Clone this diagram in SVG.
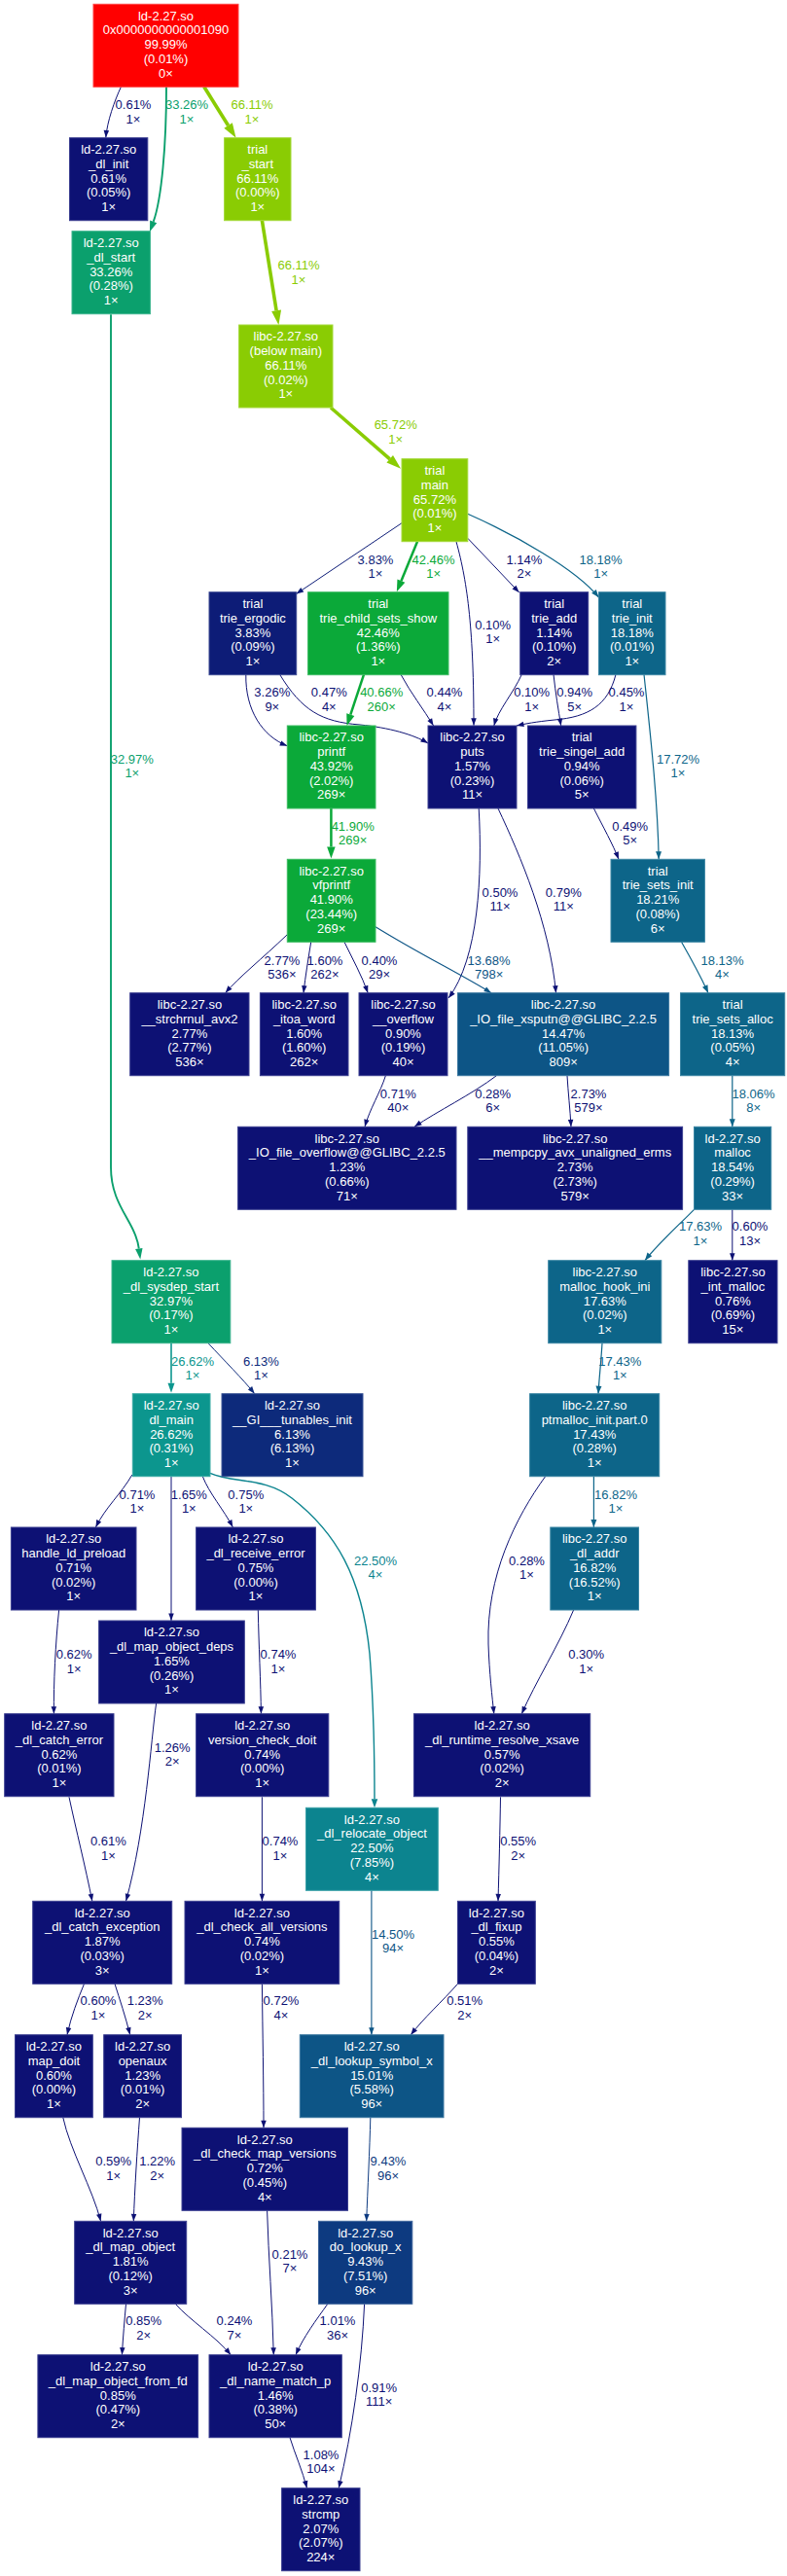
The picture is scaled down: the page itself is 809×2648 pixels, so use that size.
<svg xmlns="http://www.w3.org/2000/svg" width="809" height="2648" viewBox="0 0 809 2648">
<style>
text{font-family:"Liberation Sans",Arial,sans-serif;font-size:13px;text-anchor:middle}
.node text{fill:#ffffff}
.node rect{stroke-width:1}
#edges path{fill:none}
rect.kr{fill:#ff0000;stroke:#ff4040}
rect.k0{fill:#0d1174;stroke:#3a3e90}
rect.k1{fill:#0d1c77;stroke:#3a4892}
rect.k2{fill:#0d2a7b;stroke:#3a5596}
rect.k3{fill:#0d3a80;stroke:#3a6299}
rect.k4{fill:#0d5586;stroke:#3a77a0}
rect.k5{fill:#0d6589;stroke:#3a85a3}
rect.k6{fill:#0c848f;stroke:#3aa0a8}
rect.k7{fill:#0c968e;stroke:#3aaca6}
rect.k8{fill:#0ba06d;stroke:#3ab38c}
rect.k9{fill:#0ba939;stroke:#3abb60}
rect.k10{fill:#8acc03;stroke:#a4d93a}
path.k0{stroke:#0d1174;stroke-width:1;marker-end:url(#a0)}
path.k1{stroke:#0d1c77;stroke-width:1;marker-end:url(#a1)}
path.k2{stroke:#0d2a7b;stroke-width:1;marker-end:url(#a2)}
path.k3{stroke:#0d3a80;stroke-width:1;marker-end:url(#a3)}
path.k4{stroke:#0d5586;stroke-width:1.1;marker-end:url(#a4)}
path.k5{stroke:#0d6589;stroke-width:1.2;marker-end:url(#a5)}
path.k6{stroke:#0c848f;stroke-width:1.4;marker-end:url(#a6)}
path.k7{stroke:#0c968e;stroke-width:1.6;marker-end:url(#a7)}
path.k8{stroke:#0ba06d;stroke-width:1.9;marker-end:url(#a8)}
path.k9{stroke:#0ba939;stroke-width:2.5;marker-end:url(#a9)}
path.k10{stroke:#8acc03;stroke-width:3.6;marker-end:url(#a10)}
text.k0{fill:#0d1174}
text.k1{fill:#0d1c77}
text.k2{fill:#0d2a7b}
text.k3{fill:#0d3a80}
text.k4{fill:#0d5586}
text.k5{fill:#0d6589}
text.k6{fill:#0c848f}
text.k7{fill:#0c968e}
text.k8{fill:#0ba06d}
text.k9{fill:#0ba939}
text.k10{fill:#8acc03}
</style>
<defs>
<marker id="a0" markerUnits="userSpaceOnUse" markerWidth="8" markerHeight="6" refX="7.5" refY="2.75" orient="auto" overflow="visible"><path d="M0,0L7.5,2.75L0,5.5z" fill="#0d1174"/></marker>
<marker id="a1" markerUnits="userSpaceOnUse" markerWidth="8" markerHeight="6" refX="7.5" refY="2.75" orient="auto" overflow="visible"><path d="M0,0L7.5,2.75L0,5.5z" fill="#0d1c77"/></marker>
<marker id="a2" markerUnits="userSpaceOnUse" markerWidth="8" markerHeight="6" refX="7.5" refY="2.75" orient="auto" overflow="visible"><path d="M0,0L7.5,2.75L0,5.5z" fill="#0d2a7b"/></marker>
<marker id="a3" markerUnits="userSpaceOnUse" markerWidth="8" markerHeight="6" refX="7.5" refY="2.75" orient="auto" overflow="visible"><path d="M0,0L7.5,2.75L0,5.5z" fill="#0d3a80"/></marker>
<marker id="a4" markerUnits="userSpaceOnUse" markerWidth="8" markerHeight="6" refX="7.5" refY="2.75" orient="auto" overflow="visible"><path d="M0,0L7.5,2.75L0,5.5z" fill="#0d5586"/></marker>
<marker id="a5" markerUnits="userSpaceOnUse" markerWidth="8" markerHeight="6" refX="8" refY="3" orient="auto" overflow="visible"><path d="M0,0L8,3L0,6z" fill="#0d6589"/></marker>
<marker id="a6" markerUnits="userSpaceOnUse" markerWidth="9" markerHeight="7" refX="0" refY="3.25" orient="auto" overflow="visible"><path d="M0,0L9,3.25L0,6.5z" fill="#0c848f"/></marker>
<marker id="a7" markerUnits="userSpaceOnUse" markerWidth="10" markerHeight="7" refX="0" refY="3.5" orient="auto" overflow="visible"><path d="M0,0L10,3.5L0,7z" fill="#0c968e"/></marker>
<marker id="a8" markerUnits="userSpaceOnUse" markerWidth="11" markerHeight="8" refX="0" refY="3.75" orient="auto" overflow="visible"><path d="M0,0L11,3.75L0,7.5z" fill="#0ba06d"/></marker>
<marker id="a9" markerUnits="userSpaceOnUse" markerWidth="12" markerHeight="9" refX="0" refY="4.25" orient="auto" overflow="visible"><path d="M0,0L12,4.25L0,8.5z" fill="#0ba939"/></marker>
<marker id="a10" markerUnits="userSpaceOnUse" markerWidth="15" markerHeight="10" refX="0" refY="5" orient="auto" overflow="visible"><path d="M0,0L15,5L0,10z" fill="#8acc03"/></marker>
</defs>
<rect width="809" height="2648" fill="#ffffff"/>

<g id="edges">
<g class="edge"><path class="k0" d="M124.4,89.3 C118,103 110,125 108.8,141.5"/><text class="k0" x="137" y="112.4"><tspan x="137">0.61%</tspan><tspan x="137" dy="14.4">1×</tspan></text></g>
<g class="edge"><path class="k8" d="M171,89.3 C171,150 166,205 157.7,227.9"/><text class="k8" x="192" y="112.4"><tspan x="192">33.26%</tspan><tspan x="192" dy="14.4">1×</tspan></text></g>
<g class="edge"><path class="k10" d="M209.8,89.3 L234.6,129"/><text class="k10" x="259" y="112.4"><tspan x="259">66.11%</tspan><tspan x="259" dy="14.4">1×</tspan></text></g>
<g class="edge"><path class="k10" d="M269.4,226.7 L284.1,319.2"/><text class="k10" x="307" y="277.4"><tspan x="307">66.11%</tspan><tspan x="307" dy="14.4">1×</tspan></text></g>
<g class="edge"><path class="k10" d="M340,419 L400.7,471.8"/><text class="k10" x="406.7" y="441.4"><tspan x="406.7">65.72%</tspan><tspan x="406.7" dy="14.4">1×</tspan></text></g>
<g class="edge"><path class="k8" d="M114,323.3 L114,1200 C114,1240 139,1255 142.8,1283.5"/><text class="k8" x="135.8" y="784.7"><tspan x="135.8">32.97%</tspan><tspan x="135.8" dy="14.4">1×</tspan></text></g>
<g class="edge"><path class="k1" d="M413,537.7 L304.5,610.5"/><text class="k1" x="386" y="579.7"><tspan x="386">3.83%</tspan><tspan x="386" dy="14.4">1×</tspan></text></g>
<g class="edge"><path class="k9" d="M429,556.7 L412.4,597.2"/><text class="k9" x="445.6" y="579.7"><tspan x="445.6">42.46%</tspan><tspan x="445.6" dy="14.4">1×</tspan></text></g>
<g class="edge"><path class="k0" d="M469,556.7 C481,600 487,650 487,745.8"/><text class="k0" x="506.7" y="647"><tspan x="506.7">0.10%</tspan><tspan x="506.7" dy="14.4">1×</tspan></text></g>
<g class="edge"><path class="k0" d="M480.8,553.3 L533.7,609"/><text class="k0" x="538.9" y="579.7"><tspan x="538.9">1.14%</tspan><tspan x="538.9" dy="14.4">2×</tspan></text></g>
<g class="edge"><path class="k5" d="M480.8,528.3 C530,550 592,585 615.5,614"/><text class="k5" x="617.6" y="579.7"><tspan x="617.6">18.18%</tspan><tspan x="617.6" dy="14.4">1×</tspan></text></g>
<g class="edge"><path class="k0" d="M252.8,693.3 C252,730 270,757 295.3,766.7"/><text class="k0" x="279.8" y="716.4"><tspan x="279.8">3.26%</tspan><tspan x="279.8" dy="14.4">9×</tspan></text></g>
<g class="edge"><path class="k0" d="M287.6,693.3 C310,730 330,742 370,745 C400,748 425,755 440,764"/><text class="k0" x="338.3" y="716.4"><tspan x="338.3">0.47%</tspan><tspan x="338.3" dy="14.4">4×</tspan></text></g>
<g class="edge"><path class="k9" d="M374,693.3 L360.3,734.6"/><text class="k9" x="392.2" y="716.4"><tspan x="392.2">40.66%</tspan><tspan x="392.2" dy="14.4">260×</tspan></text></g>
<g class="edge"><path class="k0" d="M412,693.3 C422,712 436,730 445.6,746"/><text class="k0" x="457" y="716.4"><tspan x="457">0.44%</tspan><tspan x="457" dy="14.4">4×</tspan></text></g>
<g class="edge"><path class="k0" d="M536.3,693.3 C528,712 512,730 507.8,746"/><text class="k0" x="546.6" y="716.4"><tspan x="546.6">0.10%</tspan><tspan x="546.6" dy="14.4">1×</tspan></text></g>
<g class="edge"><path class="k0" d="M569,693.3 C571,712 574,730 576.7,746"/><text class="k0" x="590.7" y="716.4"><tspan x="590.7">0.94%</tspan><tspan x="590.7" dy="14.4">5×</tspan></text></g>
<g class="edge"><path class="k0" d="M633,693.3 C625,725 605,737 570,740 C550,742 540,744 531,746"/><text class="k0" x="644" y="716.4"><tspan x="644">0.45%</tspan><tspan x="644" dy="14.4">1×</tspan></text></g>
<g class="edge"><path class="k5" d="M662,693.3 C668,750 676,820 677.2,883.3"/><text class="k5" x="697" y="784.7"><tspan x="697">17.72%</tspan><tspan x="697" dy="14.4">1×</tspan></text></g>
<g class="edge"><path class="k9" d="M340.4,831 L340.4,870.5"/><text class="k9" x="362.7" y="854"><tspan x="362.7">41.90%</tspan><tspan x="362.7" dy="14.4">269×</tspan></text></g>
<g class="edge"><path class="k0" d="M492.2,831 C496,900 492,985 461,1026"/><text class="k0" x="514" y="922"><tspan x="514">0.50%</tspan><tspan x="514" dy="14.4">11×</tspan></text></g>
<g class="edge"><path class="k0" d="M512,831 C535,880 565,950 571.5,1020.7"/><text class="k0" x="579.3" y="922"><tspan x="579.3">0.79%</tspan><tspan x="579.3" dy="14.4">11×</tspan></text></g>
<g class="edge"><path class="k0" d="M610.4,831 C620,850 630,868 636,883.3"/><text class="k0" x="647.7" y="854"><tspan x="647.7">0.49%</tspan><tspan x="647.7" dy="14.4">5×</tspan></text></g>
<g class="edge"><path class="k0" d="M295.3,960.7 C270,985 245,1005 231.6,1020.7"/><text class="k0" x="290" y="992"><tspan x="290">2.77%</tspan><tspan x="290" dy="14.4">536×</tspan></text></g>
<g class="edge"><path class="k0" d="M319.7,968.3 C317,985 314,1003 312,1020.7"/><text class="k0" x="334" y="992"><tspan x="334">1.60%</tspan><tspan x="334" dy="14.4">262×</tspan></text></g>
<g class="edge"><path class="k0" d="M354,968.3 C362,985 372,1003 378.2,1020.7"/><text class="k0" x="390" y="992"><tspan x="390">0.40%</tspan><tspan x="390" dy="14.4">29×</tspan></text></g>
<g class="edge"><path class="k4" d="M386,952.7 C430,980 475,1002 505,1020.7"/><text class="k4" x="502.6" y="992"><tspan x="502.6">13.68%</tspan><tspan x="502.6" dy="14.4">798×</tspan></text></g>
<g class="edge"><path class="k5" d="M700.5,968.3 C710,985 720,1003 728,1020.7"/><text class="k5" x="742.5" y="992"><tspan x="742.5">18.13%</tspan><tspan x="742.5" dy="14.4">4×</tspan></text></g>
<g class="edge"><path class="k0" d="M396.4,1105.7 C391,1123 380,1140 375,1158.3"/><text class="k0" x="409.3" y="1128.7"><tspan x="409.3">0.71%</tspan><tspan x="409.3" dy="14.4">40×</tspan></text></g>
<g class="edge"><path class="k0" d="M510.4,1105.7 C485,1125 450,1142 426,1158.3"/><text class="k0" x="506.7" y="1128.7"><tspan x="506.7">0.28%</tspan><tspan x="506.7" dy="14.4">6×</tspan></text></g>
<g class="edge"><path class="k0" d="M583,1105.7 C584,1123 586,1140 587,1158.3"/><text class="k0" x="605" y="1128.7"><tspan x="605">2.73%</tspan><tspan x="605" dy="14.4">579×</tspan></text></g>
<g class="edge"><path class="k5" d="M752.8,1105.7 L752.8,1158.3"/><text class="k5" x="774.6" y="1128.7"><tspan x="774.6">18.06%</tspan><tspan x="774.6" dy="14.4">8×</tspan></text></g>
<g class="edge"><path class="k5" d="M713.5,1243.3 C695,1262 675,1280 663,1295.7"/><text class="k5" x="720" y="1265.4"><tspan x="720">17.63%</tspan><tspan x="720" dy="14.4">1×</tspan></text></g>
<g class="edge"><path class="k0" d="M752.8,1243.3 L752.8,1295.7"/><text class="k0" x="771" y="1265.4"><tspan x="771">0.60%</tspan><tspan x="771" dy="14.4">13×</tspan></text></g>
<g class="edge"><path class="k7" d="M176,1380.7 L176,1421.7"/><text class="k7" x="198" y="1403.7"><tspan x="198">26.62%</tspan><tspan x="198" dy="14.4">1×</tspan></text></g>
<g class="edge"><path class="k2" d="M214,1380.7 C230,1398 250,1418 261.7,1432.7"/><text class="k2" x="268.4" y="1403.7"><tspan x="268.4">6.13%</tspan><tspan x="268.4" dy="14.4">1×</tspan></text></g>
<g class="edge"><path class="k5" d="M619,1380.7 C618,1398 616,1416 615,1432.7"/><text class="k5" x="637.3" y="1403.7"><tspan x="637.3">17.43%</tspan><tspan x="637.3" dy="14.4">1×</tspan></text></g>
<g class="edge"><path class="k0" d="M135.8,1516 C125,1535 108,1550 98.4,1570"/><text class="k0" x="141" y="1540.7"><tspan x="141">0.71%</tspan><tspan x="141" dy="14.4">1×</tspan></text></g>
<g class="edge"><path class="k0" d="M176,1517.7 L176,1666"/><text class="k0" x="194.3" y="1540.7"><tspan x="194.3">1.65%</tspan><tspan x="194.3" dy="14.4">1×</tspan></text></g>
<g class="edge"><path class="k0" d="M208.3,1517.7 C215,1535 230,1552 239.4,1570"/><text class="k0" x="252.8" y="1540.7"><tspan x="252.8">0.75%</tspan><tspan x="252.8" dy="14.4">1×</tspan></text></g>
<g class="edge"><path class="k6" d="M216,1514.3 C240,1525 272,1518 300,1540 C345,1575 372,1620 380,1700 C384,1750 385,1800 385,1849.3"/><text class="k6" x="386" y="1608.7"><tspan x="386">22.50%</tspan><tspan x="386" dy="14.4">4×</tspan></text></g>
<g class="edge"><path class="k0" d="M560.6,1517.7 C530,1560 500,1620 502,1690 C503,1720 506,1745 507.8,1761.7"/><text class="k0" x="541.5" y="1608.7"><tspan x="541.5">0.28%</tspan><tspan x="541.5" dy="14.4">1×</tspan></text></g>
<g class="edge"><path class="k5" d="M610.4,1517.7 L610.4,1570"/><text class="k5" x="633" y="1540.7"><tspan x="633">16.82%</tspan><tspan x="633" dy="14.4">1×</tspan></text></g>
<g class="edge"><path class="k0" d="M60.6,1655 C57,1690 55,1730 55.4,1761.7"/><text class="k0" x="76.2" y="1705.4"><tspan x="76.2">0.62%</tspan><tspan x="76.2" dy="14.4">1×</tspan></text></g>
<g class="edge"><path class="k0" d="M265.3,1655 C266,1690 268,1730 268.4,1761.7"/><text class="k0" x="286" y="1705.4"><tspan x="286">0.74%</tspan><tspan x="286" dy="14.4">1×</tspan></text></g>
<g class="edge"><path class="k0" d="M589.6,1655 C575,1690 550,1730 536.3,1761.7"/><text class="k0" x="602.6" y="1705.4"><tspan x="602.6">0.30%</tspan><tspan x="602.6" dy="14.4">1×</tspan></text></g>
<g class="edge"><path class="k0" d="M160.6,1751 C155,1790 150,1880 129.5,1954.3"/><text class="k0" x="177.2" y="1800.7"><tspan x="177.2">1.26%</tspan><tspan x="177.2" dy="14.4">2×</tspan></text></g>
<g class="edge"><path class="k0" d="M71,1847.3 C78,1880 88,1920 94.8,1954.3"/><text class="k0" x="111.4" y="1897.4"><tspan x="111.4">0.61%</tspan><tspan x="111.4" dy="14.4">1×</tspan></text></g>
<g class="edge"><path class="k0" d="M269.4,1847.3 L269.4,1954.3"/><text class="k0" x="288" y="1897.4"><tspan x="288">0.74%</tspan><tspan x="288" dy="14.4">1×</tspan></text></g>
<g class="edge"><path class="k0" d="M514.5,1847.3 C514,1880 513,1920 512,1954.3"/><text class="k0" x="532.6" y="1897.4"><tspan x="532.6">0.55%</tspan><tspan x="532.6" dy="14.4">2×</tspan></text></g>
<g class="edge"><path class="k4" d="M381.9,1943.3 L381.9,2091.7"/><text class="k4" x="404" y="1993"><tspan x="404">14.50%</tspan><tspan x="404" dy="14.4">94×</tspan></text></g>
<g class="edge"><path class="k0" d="M86.5,2039.3 C80,2055 73,2073 69,2091.7"/><text class="k0" x="101" y="2061.4"><tspan x="101">0.60%</tspan><tspan x="101" dy="14.4">1×</tspan></text></g>
<g class="edge"><path class="k0" d="M118,2039.3 C123,2055 129,2073 133.7,2091.7"/><text class="k0" x="149.2" y="2061.4"><tspan x="149.2">1.23%</tspan><tspan x="149.2" dy="14.4">2×</tspan></text></g>
<g class="edge"><path class="k0" d="M269.4,2039.3 C270,2090 271,2140 271,2187.3"/><text class="k0" x="289" y="2061.4"><tspan x="289">0.72%</tspan><tspan x="289" dy="14.4">4×</tspan></text></g>
<g class="edge"><path class="k0" d="M470.5,2039.3 C455,2057 435,2075 422.3,2091.7"/><text class="k0" x="477.7" y="2061.4"><tspan x="477.7">0.51%</tspan><tspan x="477.7" dy="14.4">2×</tspan></text></g>
<g class="edge"><path class="k0" d="M64.8,2176.7 C72,2210 95,2250 103.6,2283.3"/><text class="k0" x="116.6" y="2226.4"><tspan x="116.6">0.59%</tspan><tspan x="116.6" dy="14.4">1×</tspan></text></g>
<g class="edge"><path class="k0" d="M143.5,2176.7 C141,2210 138.5,2250 137.3,2283.3"/><text class="k0" x="161.7" y="2226.4"><tspan x="161.7">1.22%</tspan><tspan x="161.7" dy="14.4">2×</tspan></text></g>
<g class="edge"><path class="k3" d="M380.8,2176.7 C380,2210 378,2250 376.7,2283.3"/><text class="k3" x="399" y="2226.4"><tspan x="399">9.43%</tspan><tspan x="399" dy="14.4">96×</tspan></text></g>
<g class="edge"><path class="k0" d="M129.5,2368.3 C128,2385 126.5,2402 125.4,2420.7"/><text class="k0" x="147.7" y="2390.4"><tspan x="147.7">0.85%</tspan><tspan x="147.7" dy="14.4">2×</tspan></text></g>
<g class="edge"><path class="k0" d="M180.3,2368.3 C195,2385 222,2402 237.3,2420.7"/><text class="k0" x="241" y="2390.4"><tspan x="241">0.24%</tspan><tspan x="241" dy="14.4">7×</tspan></text></g>
<g class="edge"><path class="k0" d="M274.6,2272.3 C276,2320 280,2370 281.3,2420.7"/><text class="k0" x="298" y="2322"><tspan x="298">0.21%</tspan><tspan x="298" dy="14.4">7×</tspan></text></g>
<g class="edge"><path class="k0" d="M336.8,2368.3 C325,2385 312,2402 304,2420.7"/><text class="k0" x="347" y="2390.4"><tspan x="347">1.01%</tspan><tspan x="347" dy="14.4">36×</tspan></text></g>
<g class="edge"><path class="k0" d="M374.6,2368.3 C372,2430 362,2500 348.2,2557.7"/><text class="k0" x="389.6" y="2458.7"><tspan x="389.6">0.91%</tspan><tspan x="389.6" dy="14.4">111×</tspan></text></g>
<g class="edge"><path class="k0" d="M298,2505.7 C303,2522 311,2540 315.5,2557.7"/><text class="k0" x="330" y="2528"><tspan x="330">1.08%</tspan><tspan x="330" dy="14.4">104×</tspan></text></g>
</g>

<g id="n_root" class="node"><rect class="kr" x="96" y="4.3" width="149" height="85"/><text x="170.5" y="20.5"><tspan x="170.5">ld-2.27.so</tspan><tspan x="170.5" dy="14.8">0x0000000000001090</tspan><tspan x="170.5" dy="14.8">99.99%</tspan><tspan x="170.5" dy="14.8">(0.01%)</tspan><tspan x="170.5" dy="14.8">0×</tspan></text></g>
<g id="n_dl_init" class="node"><rect class="k0" x="71.5" y="141.7" width="80.3" height="85"/><text x="111.7" y="157.9"><tspan x="111.7">ld-2.27.so</tspan><tspan x="111.7" dy="14.8">_dl_init</tspan><tspan x="111.7" dy="14.8">0.61%</tspan><tspan x="111.7" dy="14.8">(0.05%)</tspan><tspan x="111.7" dy="14.8">1×</tspan></text></g>
<g id="n_start" class="node"><rect class="k10" x="230.6" y="141.7" width="68.4" height="85"/><text x="264.8" y="157.9"><tspan x="264.8">trial</tspan><tspan x="264.8" dy="14.8">_start</tspan><tspan x="264.8" dy="14.8">66.11%</tspan><tspan x="264.8" dy="14.8">(0.00%)</tspan><tspan x="264.8" dy="14.8">1×</tspan></text></g>
<g id="n_dl_start" class="node"><rect class="k8" x="74" y="237.7" width="80.4" height="85"/><text x="114.2" y="253.9"><tspan x="114.2">ld-2.27.so</tspan><tspan x="114.2" dy="14.8">_dl_start</tspan><tspan x="114.2" dy="14.8">33.26%</tspan><tspan x="114.2" dy="14.8">(0.28%)</tspan><tspan x="114.2" dy="14.8">1×</tspan></text></g>
<g id="n_below_main" class="node"><rect class="k10" x="245.6" y="334" width="96.4" height="85"/><text x="293.8" y="350.2"><tspan x="293.8">libc-2.27.so</tspan><tspan x="293.8" dy="14.8">(below main)</tspan><tspan x="293.8" dy="14.8">66.11%</tspan><tspan x="293.8" dy="14.8">(0.02%)</tspan><tspan x="293.8" dy="14.8">1×</tspan></text></g>
<g id="n_main" class="node"><rect class="k10" x="413" y="471.7" width="67.8" height="85"/><text x="446.9" y="487.9"><tspan x="446.9">trial</tspan><tspan x="446.9" dy="14.8">main</tspan><tspan x="446.9" dy="14.8">65.72%</tspan><tspan x="446.9" dy="14.8">(0.01%)</tspan><tspan x="446.9" dy="14.8">1×</tspan></text></g>
<g id="n_trie_ergodic" class="node"><rect class="k1" x="215" y="608.7" width="89.7" height="85"/><text x="259.9" y="624.9"><tspan x="259.9">trial</tspan><tspan x="259.9" dy="14.8">trie_ergodic</tspan><tspan x="259.9" dy="14.8">3.83%</tspan><tspan x="259.9" dy="14.8">(0.09%)</tspan><tspan x="259.9" dy="14.8">1×</tspan></text></g>
<g id="n_trie_child_sets_show" class="node"><rect class="k9" x="316.6" y="608.7" width="144.4" height="85"/><text x="388.8" y="624.9"><tspan x="388.8">trial</tspan><tspan x="388.8" dy="14.8">trie_child_sets_show</tspan><tspan x="388.8" dy="14.8">42.46%</tspan><tspan x="388.8" dy="14.8">(1.36%)</tspan><tspan x="388.8" dy="14.8">1×</tspan></text></g>
<g id="n_trie_add" class="node"><rect class="k0" x="534.7" y="608.7" width="70" height="85"/><text x="569.7" y="624.9"><tspan x="569.7">trial</tspan><tspan x="569.7" dy="14.8">trie_add</tspan><tspan x="569.7" dy="14.8">1.14%</tspan><tspan x="569.7" dy="14.8">(0.10%)</tspan><tspan x="569.7" dy="14.8">2×</tspan></text></g>
<g id="n_trie_init" class="node"><rect class="k5" x="615.5" y="608.7" width="68.5" height="85"/><text x="649.8" y="624.9"><tspan x="649.8">trial</tspan><tspan x="649.8" dy="14.8">trie_init</tspan><tspan x="649.8" dy="14.8">18.18%</tspan><tspan x="649.8" dy="14.8">(0.01%)</tspan><tspan x="649.8" dy="14.8">1×</tspan></text></g>
<g id="n_printf" class="node"><rect class="k9" x="295.3" y="746" width="90.7" height="85"/><text x="340.7" y="762.2"><tspan x="340.7">libc-2.27.so</tspan><tspan x="340.7" dy="14.8">printf</tspan><tspan x="340.7" dy="14.8">43.92%</tspan><tspan x="340.7" dy="14.8">(2.02%)</tspan><tspan x="340.7" dy="14.8">269×</tspan></text></g>
<g id="n_puts" class="node"><rect class="k0" x="440" y="746" width="91" height="85"/><text x="485.5" y="762.2"><tspan x="485.5">libc-2.27.so</tspan><tspan x="485.5" dy="14.8">puts</tspan><tspan x="485.5" dy="14.8">1.57%</tspan><tspan x="485.5" dy="14.8">(0.23%)</tspan><tspan x="485.5" dy="14.8">11×</tspan></text></g>
<g id="n_trie_singel_add" class="node"><rect class="k0" x="542.5" y="746" width="111.4" height="85"/><text x="598.2" y="762.2"><tspan x="598.2">trial</tspan><tspan x="598.2" dy="14.8">trie_singel_add</tspan><tspan x="598.2" dy="14.8">0.94%</tspan><tspan x="598.2" dy="14.8">(0.06%)</tspan><tspan x="598.2" dy="14.8">5×</tspan></text></g>
<g id="n_vfprintf" class="node"><rect class="k9" x="295.3" y="883.3" width="90.7" height="85"/><text x="340.7" y="899.5"><tspan x="340.7">libc-2.27.so</tspan><tspan x="340.7" dy="14.8">vfprintf</tspan><tspan x="340.7" dy="14.8">41.90%</tspan><tspan x="340.7" dy="14.8">(23.44%)</tspan><tspan x="340.7" dy="14.8">269×</tspan></text></g>
<g id="n_trie_sets_init" class="node"><rect class="k5" x="628" y="883.3" width="96.4" height="85"/><text x="676.2" y="899.5"><tspan x="676.2">trial</tspan><tspan x="676.2" dy="14.8">trie_sets_init</tspan><tspan x="676.2" dy="14.8">18.21%</tspan><tspan x="676.2" dy="14.8">(0.08%)</tspan><tspan x="676.2" dy="14.8">6×</tspan></text></g>
<g id="n_strchrnul" class="node"><rect class="k0" x="133.7" y="1020.7" width="122.3" height="85"/><text x="194.9" y="1036.9"><tspan x="194.9">libc-2.27.so</tspan><tspan x="194.9" dy="14.8">__strchrnul_avx2</tspan><tspan x="194.9" dy="14.8">2.77%</tspan><tspan x="194.9" dy="14.8">(2.77%)</tspan><tspan x="194.9" dy="14.8">536×</tspan></text></g>
<g id="n_itoa_word" class="node"><rect class="k0" x="267.4" y="1020.7" width="90.6" height="85"/><text x="312.7" y="1036.9"><tspan x="312.7">libc-2.27.so</tspan><tspan x="312.7" dy="14.8">_itoa_word</tspan><tspan x="312.7" dy="14.8">1.60%</tspan><tspan x="312.7" dy="14.8">(1.60%)</tspan><tspan x="312.7" dy="14.8">262×</tspan></text></g>
<g id="n_overflow" class="node"><rect class="k0" x="369" y="1020.7" width="91" height="85"/><text x="414.5" y="1036.9"><tspan x="414.5">libc-2.27.so</tspan><tspan x="414.5" dy="14.8">__overflow</tspan><tspan x="414.5" dy="14.8">0.90%</tspan><tspan x="414.5" dy="14.8">(0.19%)</tspan><tspan x="414.5" dy="14.8">40×</tspan></text></g>
<g id="n_xsputn" class="node"><rect class="k4" x="470.5" y="1020.7" width="217.1" height="85"/><text x="579.1" y="1036.9"><tspan x="579.1">libc-2.27.so</tspan><tspan x="579.1" dy="14.8">_IO_file_xsputn@@GLIBC_2.2.5</tspan><tspan x="579.1" dy="14.8">14.47%</tspan><tspan x="579.1" dy="14.8">(11.05%)</tspan><tspan x="579.1" dy="14.8">809×</tspan></text></g>
<g id="n_trie_sets_alloc" class="node"><rect class="k5" x="699.5" y="1020.7" width="107.2" height="85"/><text x="753.1" y="1036.9"><tspan x="753.1">trial</tspan><tspan x="753.1" dy="14.8">trie_sets_alloc</tspan><tspan x="753.1" dy="14.8">18.13%</tspan><tspan x="753.1" dy="14.8">(0.05%)</tspan><tspan x="753.1" dy="14.8">4×</tspan></text></g>
<g id="n_io_file_overflow" class="node"><rect class="k0" x="244.6" y="1158.3" width="224.4" height="85"/><text x="356.8" y="1174.5"><tspan x="356.8">libc-2.27.so</tspan><tspan x="356.8" dy="14.8">_IO_file_overflow@@GLIBC_2.2.5</tspan><tspan x="356.8" dy="14.8">1.23%</tspan><tspan x="356.8" dy="14.8">(0.66%)</tspan><tspan x="356.8" dy="14.8">71×</tspan></text></g>
<g id="n_mempcpy" class="node"><rect class="k0" x="480.8" y="1158.3" width="220.8" height="85"/><text x="591.2" y="1174.5"><tspan x="591.2">libc-2.27.so</tspan><tspan x="591.2" dy="14.8">__mempcpy_avx_unaligned_erms</tspan><tspan x="591.2" dy="14.8">2.73%</tspan><tspan x="591.2" dy="14.8">(2.73%)</tspan><tspan x="591.2" dy="14.8">579×</tspan></text></g>
<g id="n_malloc" class="node"><rect class="k5" x="713.5" y="1158.3" width="79.2" height="85"/><text x="753.1" y="1174.5"><tspan x="753.1">ld-2.27.so</tspan><tspan x="753.1" dy="14.8">malloc</tspan><tspan x="753.1" dy="14.8">18.54%</tspan><tspan x="753.1" dy="14.8">(0.29%)</tspan><tspan x="753.1" dy="14.8">33×</tspan></text></g>
<g id="n_dl_sysdep_start" class="node"><rect class="k8" x="115" y="1295.7" width="121.8" height="85"/><text x="175.9" y="1311.9"><tspan x="175.9">ld-2.27.so</tspan><tspan x="175.9" dy="14.8">_dl_sysdep_start</tspan><tspan x="175.9" dy="14.8">32.97%</tspan><tspan x="175.9" dy="14.8">(0.17%)</tspan><tspan x="175.9" dy="14.8">1×</tspan></text></g>
<g id="n_malloc_hook_ini" class="node"><rect class="k5" x="563.7" y="1295.7" width="116.1" height="85"/><text x="621.8" y="1311.9"><tspan x="621.8">libc-2.27.so</tspan><tspan x="621.8" dy="14.8">malloc_hook_ini</tspan><tspan x="621.8" dy="14.8">17.63%</tspan><tspan x="621.8" dy="14.8">(0.02%)</tspan><tspan x="621.8" dy="14.8">1×</tspan></text></g>
<g id="n_int_malloc" class="node"><rect class="k0" x="707.8" y="1295.7" width="91.2" height="85"/><text x="753.4" y="1311.9"><tspan x="753.4">libc-2.27.so</tspan><tspan x="753.4" dy="14.8">_int_malloc</tspan><tspan x="753.4" dy="14.8">0.76%</tspan><tspan x="753.4" dy="14.8">(0.69%)</tspan><tspan x="753.4" dy="14.8">15×</tspan></text></g>
<g id="n_dl_main" class="node"><rect class="k7" x="136.3" y="1432.7" width="79.7" height="85"/><text x="176.2" y="1448.9"><tspan x="176.2">ld-2.27.so</tspan><tspan x="176.2" dy="14.8">dl_main</tspan><tspan x="176.2" dy="14.8">26.62%</tspan><tspan x="176.2" dy="14.8">(0.31%)</tspan><tspan x="176.2" dy="14.8">1×</tspan></text></g>
<g id="n_tunables_init" class="node"><rect class="k2" x="228" y="1432.7" width="145" height="85"/><text x="300.5" y="1448.9"><tspan x="300.5">ld-2.27.so</tspan><tspan x="300.5" dy="14.8">__GI___tunables_init</tspan><tspan x="300.5" dy="14.8">6.13%</tspan><tspan x="300.5" dy="14.8">(6.13%)</tspan><tspan x="300.5" dy="14.8">1×</tspan></text></g>
<g id="n_ptmalloc_init" class="node"><rect class="k5" x="544.6" y="1432.7" width="133.1" height="85"/><text x="611.2" y="1448.9"><tspan x="611.2">libc-2.27.so</tspan><tspan x="611.2" dy="14.8">ptmalloc_init.part.0</tspan><tspan x="611.2" dy="14.8">17.43%</tspan><tspan x="611.2" dy="14.8">(0.28%)</tspan><tspan x="611.2" dy="14.8">1×</tspan></text></g>
<g id="n_handle_ld_preload" class="node"><rect class="k0" x="11.4" y="1570" width="128.6" height="85"/><text x="75.7" y="1586.2"><tspan x="75.7">ld-2.27.so</tspan><tspan x="75.7" dy="14.8">handle_ld_preload</tspan><tspan x="75.7" dy="14.8">0.71%</tspan><tspan x="75.7" dy="14.8">(0.02%)</tspan><tspan x="75.7" dy="14.8">1×</tspan></text></g>
<g id="n_dl_receive_error" class="node"><rect class="k0" x="201.6" y="1570" width="122.8" height="85"/><text x="263" y="1586.2"><tspan x="263">ld-2.27.so</tspan><tspan x="263" dy="14.8">_dl_receive_error</tspan><tspan x="263" dy="14.8">0.75%</tspan><tspan x="263" dy="14.8">(0.00%)</tspan><tspan x="263" dy="14.8">1×</tspan></text></g>
<g id="n_dl_addr" class="node"><rect class="k5" x="565.8" y="1570" width="90.7" height="85"/><text x="611.2" y="1586.2"><tspan x="611.2">libc-2.27.so</tspan><tspan x="611.2" dy="14.8">_dl_addr</tspan><tspan x="611.2" dy="14.8">16.82%</tspan><tspan x="611.2" dy="14.8">(16.52%)</tspan><tspan x="611.2" dy="14.8">1×</tspan></text></g>
<g id="n_dl_map_object_deps" class="node"><rect class="k0" x="101.6" y="1666" width="149.7" height="85"/><text x="176.5" y="1682.2"><tspan x="176.5">ld-2.27.so</tspan><tspan x="176.5" dy="14.8">_dl_map_object_deps</tspan><tspan x="176.5" dy="14.8">1.65%</tspan><tspan x="176.5" dy="14.8">(0.26%)</tspan><tspan x="176.5" dy="14.8">1×</tspan></text></g>
<g id="n_dl_catch_error" class="node"><rect class="k0" x="4.7" y="1761.7" width="112.3" height="85"/><text x="60.9" y="1777.9"><tspan x="60.9">ld-2.27.so</tspan><tspan x="60.9" dy="14.8">_dl_catch_error</tspan><tspan x="60.9" dy="14.8">0.62%</tspan><tspan x="60.9" dy="14.8">(0.01%)</tspan><tspan x="60.9" dy="14.8">1×</tspan></text></g>
<g id="n_version_check_doit" class="node"><rect class="k0" x="201.6" y="1761.7" width="136.2" height="85"/><text x="269.7" y="1777.9"><tspan x="269.7">ld-2.27.so</tspan><tspan x="269.7" dy="14.8">version_check_doit</tspan><tspan x="269.7" dy="14.8">0.74%</tspan><tspan x="269.7" dy="14.8">(0.00%)</tspan><tspan x="269.7" dy="14.8">1×</tspan></text></g>
<g id="n_dl_runtime_resolve_xsave" class="node"><rect class="k0" x="425.4" y="1761.7" width="181.3" height="85"/><text x="516.1" y="1777.9"><tspan x="516.1">ld-2.27.so</tspan><tspan x="516.1" dy="14.8">_dl_runtime_resolve_xsave</tspan><tspan x="516.1" dy="14.8">0.57%</tspan><tspan x="516.1" dy="14.8">(0.02%)</tspan><tspan x="516.1" dy="14.8">2×</tspan></text></g>
<g id="n_dl_relocate_object" class="node"><rect class="k6" x="314.5" y="1858.3" width="135.8" height="85"/><text x="382.4" y="1874.5"><tspan x="382.4">ld-2.27.so</tspan><tspan x="382.4" dy="14.8">_dl_relocate_object</tspan><tspan x="382.4" dy="14.8">22.50%</tspan><tspan x="382.4" dy="14.8">(7.85%)</tspan><tspan x="382.4" dy="14.8">4×</tspan></text></g>
<g id="n_dl_catch_exception" class="node"><rect class="k0" x="33.7" y="1954.3" width="143" height="85"/><text x="105.2" y="1970.5"><tspan x="105.2">ld-2.27.so</tspan><tspan x="105.2" dy="14.8">_dl_catch_exception</tspan><tspan x="105.2" dy="14.8">1.87%</tspan><tspan x="105.2" dy="14.8">(0.03%)</tspan><tspan x="105.2" dy="14.8">3×</tspan></text></g>
<g id="n_dl_check_all_versions" class="node"><rect class="k0" x="190" y="1954.3" width="158.7" height="85"/><text x="269.4" y="1970.5"><tspan x="269.4">ld-2.27.so</tspan><tspan x="269.4" dy="14.8">_dl_check_all_versions</tspan><tspan x="269.4" dy="14.8">0.74%</tspan><tspan x="269.4" dy="14.8">(0.02%)</tspan><tspan x="269.4" dy="14.8">1×</tspan></text></g>
<g id="n_dl_fixup" class="node"><rect class="k0" x="470.5" y="1954.3" width="79.8" height="85"/><text x="510.4" y="1970.5"><tspan x="510.4">ld-2.27.so</tspan><tspan x="510.4" dy="14.8">_dl_fixup</tspan><tspan x="510.4" dy="14.8">0.55%</tspan><tspan x="510.4" dy="14.8">(0.04%)</tspan><tspan x="510.4" dy="14.8">2×</tspan></text></g>
<g id="n_map_doit" class="node"><rect class="k0" x="15.5" y="2091.7" width="79.8" height="85"/><text x="55.4" y="2107.9"><tspan x="55.4">ld-2.27.so</tspan><tspan x="55.4" dy="14.8">map_doit</tspan><tspan x="55.4" dy="14.8">0.60%</tspan><tspan x="55.4" dy="14.8">(0.00%)</tspan><tspan x="55.4" dy="14.8">1×</tspan></text></g>
<g id="n_openaux" class="node"><rect class="k0" x="106.7" y="2091.7" width="79.8" height="85"/><text x="146.6" y="2107.9"><tspan x="146.6">ld-2.27.so</tspan><tspan x="146.6" dy="14.8">openaux</tspan><tspan x="146.6" dy="14.8">1.23%</tspan><tspan x="146.6" dy="14.8">(0.01%)</tspan><tspan x="146.6" dy="14.8">2×</tspan></text></g>
<g id="n_dl_lookup_symbol_x" class="node"><rect class="k4" x="308.3" y="2091.7" width="147.7" height="85"/><text x="382.2" y="2107.9"><tspan x="382.2">ld-2.27.so</tspan><tspan x="382.2" dy="14.8">_dl_lookup_symbol_x</tspan><tspan x="382.2" dy="14.8">15.01%</tspan><tspan x="382.2" dy="14.8">(5.58%)</tspan><tspan x="382.2" dy="14.8">96×</tspan></text></g>
<g id="n_dl_check_map_versions" class="node"><rect class="k0" x="187" y="2187.3" width="170.5" height="85"/><text x="272.3" y="2203.5"><tspan x="272.3">ld-2.27.so</tspan><tspan x="272.3" dy="14.8">_dl_check_map_versions</tspan><tspan x="272.3" dy="14.8">0.72%</tspan><tspan x="272.3" dy="14.8">(0.45%)</tspan><tspan x="272.3" dy="14.8">4×</tspan></text></g>
<g id="n_dl_map_object" class="node"><rect class="k0" x="76.7" y="2283.3" width="115" height="85"/><text x="134.2" y="2299.5"><tspan x="134.2">ld-2.27.so</tspan><tspan x="134.2" dy="14.8">_dl_map_object</tspan><tspan x="134.2" dy="14.8">1.81%</tspan><tspan x="134.2" dy="14.8">(0.12%)</tspan><tspan x="134.2" dy="14.8">3×</tspan></text></g>
<g id="n_do_lookup_x" class="node"><rect class="k3" x="327.5" y="2283.3" width="96.3" height="85"/><text x="375.7" y="2299.5"><tspan x="375.7">ld-2.27.so</tspan><tspan x="375.7" dy="14.8">do_lookup_x</tspan><tspan x="375.7" dy="14.8">9.43%</tspan><tspan x="375.7" dy="14.8">(7.51%)</tspan><tspan x="375.7" dy="14.8">96×</tspan></text></g>
<g id="n_dl_map_object_from_fd" class="node"><rect class="k0" x="38.9" y="2420.7" width="164.7" height="85"/><text x="121.3" y="2436.9"><tspan x="121.3">ld-2.27.so</tspan><tspan x="121.3" dy="14.8">_dl_map_object_from_fd</tspan><tspan x="121.3" dy="14.8">0.85%</tspan><tspan x="121.3" dy="14.8">(0.47%)</tspan><tspan x="121.3" dy="14.8">2×</tspan></text></g>
<g id="n_dl_name_match_p" class="node"><rect class="k0" x="215" y="2420.7" width="136.3" height="85"/><text x="283.2" y="2436.9"><tspan x="283.2">ld-2.27.so</tspan><tspan x="283.2" dy="14.8">_dl_name_match_p</tspan><tspan x="283.2" dy="14.8">1.46%</tspan><tspan x="283.2" dy="14.8">(0.38%)</tspan><tspan x="283.2" dy="14.8">50×</tspan></text></g>
<g id="n_strcmp" class="node"><rect class="k0" x="289.6" y="2557.7" width="80.4" height="85"/><text x="329.8" y="2573.9"><tspan x="329.8">ld-2.27.so</tspan><tspan x="329.8" dy="14.8">strcmp</tspan><tspan x="329.8" dy="14.8">2.07%</tspan><tspan x="329.8" dy="14.8">(2.07%)</tspan><tspan x="329.8" dy="14.8">224×</tspan></text></g>
</svg>
